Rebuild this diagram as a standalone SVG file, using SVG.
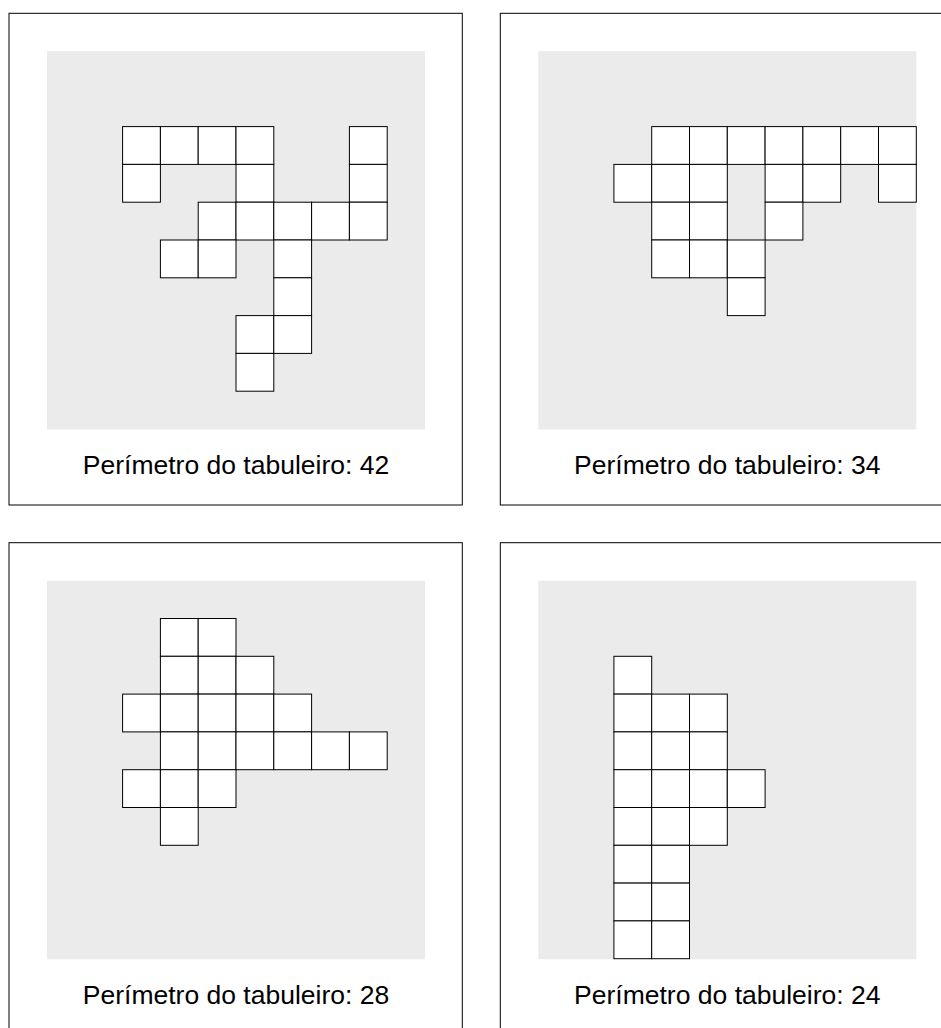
<svg xmlns="http://www.w3.org/2000/svg" width="941" height="1028" viewBox="0 0 941 1028">
<style>
.frame{fill:#fff;stroke:#000;stroke-width:1}
.board{fill:#ebebeb;stroke:none}
.cell{fill:#fff;stroke:#000;stroke-width:1}
.lbl{font-family:"Liberation Sans",Arial,sans-serif;font-size:26.5px;fill:#000;text-anchor:middle}
</style>
<defs>
<rect id="c" class="cell" width="37.8" height="37.8"/>
</defs>
<g id="panel1" transform="translate(47,51)">
<rect class="frame" x="-38" y="-37.7" width="453.3" height="491.7"/>
<rect class="board" x="0" y="0" width="378" height="378.5"/>
<use href="#c" x="75.6" y="75.6"/><use href="#c" x="113.4" y="75.6"/><use href="#c" x="151.2" y="75.6"/><use href="#c" x="189" y="75.6"/><use href="#c" x="302.4" y="75.6"/>
<use href="#c" x="75.6" y="113.4"/><use href="#c" x="189" y="113.4"/><use href="#c" x="302.4" y="113.4"/>
<use href="#c" x="151.2" y="151.2"/><use href="#c" x="189" y="151.2"/><use href="#c" x="226.8" y="151.2"/><use href="#c" x="264.6" y="151.2"/><use href="#c" x="302.4" y="151.2"/>
<use href="#c" x="113.4" y="189"/><use href="#c" x="151.2" y="189"/><use href="#c" x="226.8" y="189"/>
<use href="#c" x="226.8" y="226.8"/>
<use href="#c" x="189" y="264.6"/><use href="#c" x="226.8" y="264.6"/>
<use href="#c" x="189" y="302.4"/>
<text class="lbl" x="189" y="423.3">Perímetro do tabuleiro: 42</text>
</g>
<g id="panel2" transform="translate(538.3,51)">
<rect class="frame" x="-38" y="-37.7" width="453.3" height="491.7"/>
<rect class="board" x="0" y="0" width="378" height="378.5"/>
<use href="#c" x="113.4" y="75.6"/><use href="#c" x="151.2" y="75.6"/><use href="#c" x="189" y="75.6"/><use href="#c" x="226.8" y="75.6"/><use href="#c" x="264.6" y="75.6"/><use href="#c" x="302.4" y="75.6"/><use href="#c" x="340.2" y="75.6"/>
<use href="#c" x="75.6" y="113.4"/><use href="#c" x="113.4" y="113.4"/><use href="#c" x="151.2" y="113.4"/><use href="#c" x="226.8" y="113.4"/><use href="#c" x="264.6" y="113.4"/><use href="#c" x="340.2" y="113.4"/>
<use href="#c" x="113.4" y="151.2"/><use href="#c" x="151.2" y="151.2"/><use href="#c" x="226.8" y="151.2"/>
<use href="#c" x="113.4" y="189"/><use href="#c" x="151.2" y="189"/><use href="#c" x="189" y="189"/>
<use href="#c" x="189" y="226.8"/>
<text class="lbl" x="189" y="423.3">Perímetro do tabuleiro: 34</text>
</g>
<g id="panel3" transform="translate(47,580.7)">
<rect class="frame" x="-38" y="-38" width="453.3" height="491.7"/>
<rect class="board" x="0" y="0" width="378" height="378.5"/>
<use href="#c" x="113.4" y="37.8"/><use href="#c" x="151.2" y="37.8"/>
<use href="#c" x="113.4" y="75.6"/><use href="#c" x="151.2" y="75.6"/><use href="#c" x="189" y="75.6"/>
<use href="#c" x="75.6" y="113.4"/><use href="#c" x="113.4" y="113.4"/><use href="#c" x="151.2" y="113.4"/><use href="#c" x="189" y="113.4"/><use href="#c" x="226.8" y="113.4"/>
<use href="#c" x="113.4" y="151.2"/><use href="#c" x="151.2" y="151.2"/><use href="#c" x="189" y="151.2"/><use href="#c" x="226.8" y="151.2"/><use href="#c" x="264.6" y="151.2"/><use href="#c" x="302.4" y="151.2"/>
<use href="#c" x="75.6" y="189"/><use href="#c" x="113.4" y="189"/><use href="#c" x="151.2" y="189"/>
<use href="#c" x="113.4" y="226.8"/>
<text class="lbl" x="189" y="423.3">Perímetro do tabuleiro: 28</text>
</g>
<g id="panel4" transform="translate(538.3,580.7)">
<rect class="frame" x="-38" y="-38" width="453.3" height="491.7"/>
<rect class="board" x="0" y="0" width="378" height="378.5"/>
<use href="#c" x="75.6" y="75.6"/>
<use href="#c" x="75.6" y="113.4"/><use href="#c" x="113.4" y="113.4"/><use href="#c" x="151.2" y="113.4"/>
<use href="#c" x="75.6" y="151.2"/><use href="#c" x="113.4" y="151.2"/><use href="#c" x="151.2" y="151.2"/>
<use href="#c" x="75.6" y="189"/><use href="#c" x="113.4" y="189"/><use href="#c" x="151.2" y="189"/><use href="#c" x="189" y="189"/>
<use href="#c" x="75.6" y="226.8"/><use href="#c" x="113.4" y="226.8"/><use href="#c" x="151.2" y="226.8"/>
<use href="#c" x="75.6" y="264.6"/><use href="#c" x="113.4" y="264.6"/>
<use href="#c" x="75.6" y="302.4"/><use href="#c" x="113.4" y="302.4"/>
<use href="#c" x="75.6" y="340.2"/><use href="#c" x="113.4" y="340.2"/>
<text class="lbl" x="189" y="423.3">Perímetro do tabuleiro: 24</text>
</g>
</svg>
